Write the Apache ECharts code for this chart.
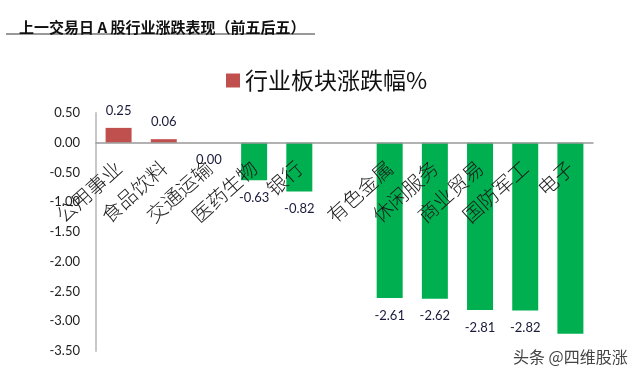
<!DOCTYPE html>
<html><head><meta charset="utf-8">
<script src="https://cdn.jsdelivr.net/npm/echarts@6/dist/echarts.min.js"></script>
<style>html,body{margin:0;padding:0;background:#fff}#c{width:639px;height:375px}</style>
</head><body><div id="c"></div>
<script>
var categories = ['公用事业','食品饮料','交通运输','医药生物','银行','','有色金属','休闲服务','商业贸易','国防军工','电子'];
var values = [0.25, 0.06, 0.00, -0.63, -0.82, null, -2.61, -2.62, -2.81, -2.82, -3.21];
var yTicks = {min: -3.5, max: 0.5, interval: 0.5};
var seriesName = '行业板块涨跌幅%';
var titleText = '上一交易日 A 股行业涨跌表现（前五后五）';
var watermark = '头条 @四维股涨';

var gridTop = 113, gridBottom = 24, H = 375;
var plotH = H - gridTop - gridBottom;
// offset moves the category axis (line + labels) up to the zero line
var zeroOffset = -plotH * (0 - yTicks.min) / (yTicks.max - yTicks.min);

var chart = echarts.init(document.getElementById('c'));
var data = values.map(function(v){
  if (v === null) return '-';
  var pos = v > 0;
  return {
    value: v,
    itemStyle: {color: pos ? '#C0504D' : '#00B050'},
    label: {position: pos ? 'top' : 'bottom'}
  };
});
chart.setOption({
  animation: false,
  title: {text: titleText, left: 14, top: 15,
    textStyle: {fontSize: 15, fontWeight: 'bold', color: '#111', fontFamily: 'Noto Sans CJK SC'}},
  legend: {data: [seriesName], top: 64, left: 221, icon: 'rect', itemWidth: 14, itemHeight: 14, itemGap: 9,
    textStyle: {fontSize: 23, color: '#111', fontFamily: 'Noto Sans CJK SC'}},
  grid: {left: 96, right: 46, top: gridTop, bottom: gridBottom, outerBoundsMode: 'none', containLabel: false},
  xAxis: {type: 'category', data: categories, position: 'bottom', offset: zeroOffset, z: 10,
    axisLine: {onZero: false, lineStyle: {color: '#999', width: 1.5}},
    axisTick: {show: false},
    axisLabel: {rotate: 42, interval: 0, margin: 22, fontSize: 20, fontWeight: 300, color: '#1a1a1a', fontFamily: 'Noto Sans CJK SC'}},
  yAxis: {type: 'value', min: yTicks.min, max: yTicks.max, interval: yTicks.interval,
    axisLine: {show: true, lineStyle: {color: '#c8c8c8', width: 2}},
    axisTick: {show: false}, splitLine: {show: false},
    axisLabel: {margin: 16, fontSize: 13, color: '#222', fontFamily: 'Lato',
      formatter: function(v){ return v.toFixed(2); }}},
  series: [{name: seriesName, type: 'bar', data: data, barWidth: 26,
    itemStyle: {color: '#C0504D'},
    label: {show: true, distance: 11, fontSize: 13, color: '#1a1a3a', fontFamily: 'Lato',
      formatter: function(p){ return Number(p.value).toFixed(2); }}}],
  graphic: [
    {type: 'line', shape: {x1: 6, y1: 34, x2: 315, y2: 34}, style: {stroke: '#999', lineWidth: 2}},
    {type: 'text', left: 510, top: 344, z: 100,
      style: {text: watermark, fontSize: 16, fill: '#444', fontFamily: 'Noto Sans CJK SC',
        backgroundColor: '#fff', padding: [5, 3, 2, 3]}}
  ]
});
</script></body></html>
